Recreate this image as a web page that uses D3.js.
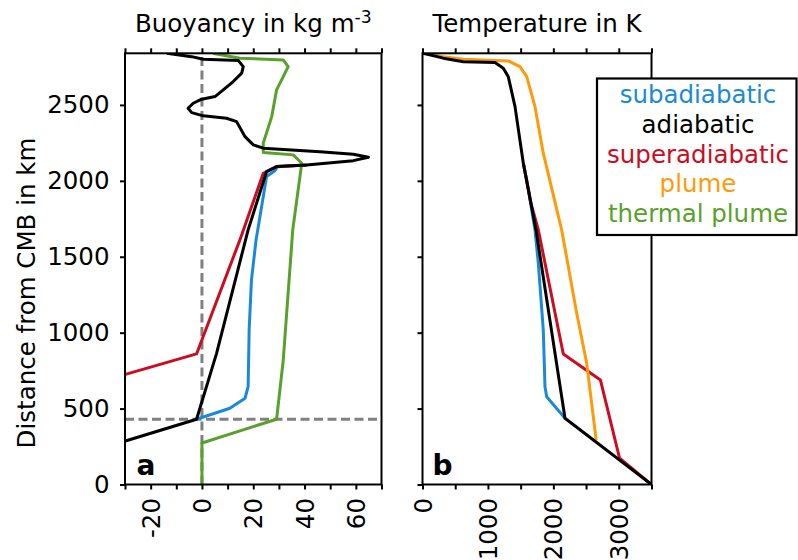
<!DOCTYPE html>
<html>
<head>
<meta charset="utf-8">
<script src="https://cdn.jsdelivr.net/npm/d3@7"></script>
<style>
body { margin: 0; background: #fff; }
text { font-family: "DejaVu Sans", sans-serif; }
</style>
</head>
<body>
<div id="chart"></div>
<script>
// Data: each point is [value, distance from CMB in km]

// Buoyancy in kg m^-3
const buoy_sub = [
    [-2.1, 430], [10.9, 502], [16.8, 568], [18.0, 644], [18.4, 1018], [19.3, 1347],
    [21.1, 1611], [25.2, 2028], [28.4, 2067], [29.5, 2092], [40.8, 2105]
];
const buoy_adi = [
    [-32, 275], [-2.1, 430], [5.7, 864], [18.0, 1677], [25.2, 2061], [29.1, 2094],
    [40.8, 2105], [59.0, 2133], [64.9, 2155], [59.0, 2175], [46.0, 2192], [23.9, 2215],
    [20.0, 2237], [16.8, 2291], [13.5, 2390], [9.6, 2412], [0.5, 2428], [-4.0, 2449],
    [-5.4, 2478], [-3.4, 2511], [-0.1, 2538], [5.1, 2555], [8.3, 2599], [12.2, 2654],
    [15.5, 2709], [16.1, 2752], [14.2, 2792], [0.5, 2801], [-4.0, 2818], [-13.7, 2841]
];
const buoy_super = [
    [-32, 715], [-2.1, 860], [14.8, 1611], [23.9, 2050], [29.1, 2094], [40.8, 2105]
];
const buoy_thermal = [
    [0, 0], [0, 273], [29.1, 430], [31.7, 820], [35.4, 1677], [38.9, 2116], [35.6, 2171],
    [23.9, 2186], [23.9, 2248], [27.2, 2423], [29.1, 2599], [31.7, 2686], [33.6, 2752],
    [31.7, 2796], [14.8, 2808], [5.7, 2836], [4.3, 2840]
];

// Temperature in K
const temp_sub = [
    [2178, 436], [1898, 578], [1872, 644], [1846, 1018], [1770, 1457], [1719, 1677],
    [1593, 2006], [1541, 2116]
];
const temp_adi = [
    [3500, 0], [2178, 436], [1735, 1677], [1541, 2116], [1414, 2489],
    [1311, 2686], [1235, 2742], [1108, 2779], [624, 2785], [318, 2808], [12, 2840]
];
const temp_super = [
    [3500, 0], [3012, 173], [2720, 688], [2152, 860], [1770, 1677], [1659, 1850], [1541, 2116]
];
const temp_plume = [
    [2655, 290], [2510, 798], [2357, 1128], [2127, 1677], [1846, 2182], [1719, 2489],
    [1593, 2686], [1490, 2752], [1311, 2790], [624, 2801], [318, 2818], [12, 2840]
];

// Ticks and labels
const km_ticks = [0, 500, 1000, 1500, 2000, 2500];
const buoy_ticks = d3.range(-30, 71, 10);
const buoy_labels = [-20, 0, 20, 40, 60];
const temp_ticks = d3.range(0, 3501, 500);
const temp_labels = [0, 1000, 2000, 3000];
const legend_names = ["subadiabatic", "adiabatic", "superadiabatic", "plume", "thermal plume"];
const legend_colors = ["#1b8ad6", "#000000", "#cc0c20", "#ff9a0a", "#58a12a"];

const chart_width = 798;
const chart_height = 560;
const font_size = 24.5;

const svg = d3.select("#chart")
    .append("svg")
    .attr("width", chart_width)
    .attr("height", chart_height)
    .style("background", "#fff");

// Scales
const y_scale = d3.scaleLinear().domain([0, 2840]).range([484.5, 53.3]);
const xa_scale = d3.scaleLinear().domain([-30, 70]).range([125, 381.5]);
const xb_scale = d3.scaleLinear().domain([0, 3500]).range([422.5, 651.5]);

function drawPanel(x_scale, ticks, labels, show_y, id) {
    const [x0, x1] = x_scale.range();
    const [y0, y1] = y_scale.range();

    svg.append("clipPath").attr("id", id)
        .append("rect")
        .attr("x", x0).attr("y", y1)
        .attr("width", x1 - x0).attr("height", y0 - y1);

    const bottom = svg.append("g")
        .attr("transform", `translate(0, ${y0})`)
        .call(d3.axisBottom(x_scale).tickValues(ticks).tickSize(5).tickSizeOuter(0)
            .tickFormat(d => labels.includes(d) ? d : ""));
    bottom.select(".domain").remove();
    bottom.selectAll(".tick text")
        .attr("transform", "rotate(-90)")
        .attr("x", -13.5)
        .attr("y", 0)
        .attr("dy", "0.35em")
        .attr("text-anchor", "end");

    const top = svg.append("g")
        .attr("transform", `translate(0, ${y1})`)
        .call(d3.axisTop(x_scale).tickValues(ticks).tickSize(5).tickSizeOuter(0).tickFormat(""));
    top.select(".domain").remove();

    const left = svg.append("g")
        .attr("transform", `translate(${x0}, 0)`)
        .call(d3.axisLeft(y_scale).tickValues(km_ticks).tickSize(5).tickSizeOuter(0).tickPadding(10.5)
            .tickFormat(show_y ? d3.format("d") : ""));
    left.select(".domain").remove();

    svg.selectAll(".tick line").attr("stroke-width", 2);
    svg.selectAll(".tick text")
        .attr("font-size", font_size)
        .attr("font-family", "DejaVu Sans")
        .attr("fill", "#000");

    return svg.append("g").attr("clip-path", `url(#${id})`);
}

function drawLine(g, x_scale, data, color) {
    const line = d3.line()
        .x(d => x_scale(d[0]))
        .y(d => y_scale(d[1]));
    g.append("path")
        .datum(data)
        .attr("fill", "none")
        .attr("stroke", color)
        .attr("stroke-width", 3)
        .attr("stroke-linejoin", "round")
        .attr("d", line);
}

function drawFrame(x_scale) {
    const [x0, x1] = x_scale.range();
    const [y0, y1] = y_scale.range();
    svg.append("rect")
        .attr("x", x0).attr("y", y1)
        .attr("width", x1 - x0).attr("height", y0 - y1)
        .attr("fill", "none")
        .attr("stroke", "#000")
        .attr("stroke-width", 2);
}

// Panel a: buoyancy
const ga = drawPanel(xa_scale, buoy_ticks, buoy_labels, true, "clip-a");

ga.append("line")
    .attr("x1", xa_scale(0)).attr("x2", xa_scale(0))
    .attr("y1", y_scale(0)).attr("y2", y_scale(2840))
    .attr("stroke", "#808080").attr("stroke-width", 3).attr("stroke-dasharray", "9,4.5");
ga.append("line")
    .attr("x1", xa_scale(-30)).attr("x2", xa_scale(70))
    .attr("y1", y_scale(430)).attr("y2", y_scale(430))
    .attr("stroke", "#808080").attr("stroke-width", 3).attr("stroke-dasharray", "9,4.5");

drawLine(ga, xa_scale, buoy_sub, legend_colors[0]);
drawLine(ga, xa_scale, buoy_super, legend_colors[2]);
drawLine(ga, xa_scale, buoy_thermal, legend_colors[4]);
drawLine(ga, xa_scale, buoy_adi, legend_colors[1]);
drawFrame(xa_scale);

// Panel b: temperature
const gb = drawPanel(xb_scale, temp_ticks, temp_labels, false, "clip-b");
drawLine(gb, xb_scale, temp_sub, legend_colors[0]);
drawLine(gb, xb_scale, temp_super, legend_colors[2]);
drawLine(gb, xb_scale, temp_plume, legend_colors[3]);
drawLine(gb, xb_scale, temp_adi, legend_colors[1]);
drawFrame(xb_scale);

// Titles
const title_a = svg.append("text")
    .attr("x", (xa_scale.range()[0] + xa_scale.range()[1]) / 2)
    .attr("y", 31.7)
    .attr("text-anchor", "middle")
    .attr("font-size", font_size)
    .text("Buoyancy in kg m");
title_a.append("tspan")
    .attr("dy", -8.4)
    .attr("font-size", font_size * 0.7)
    .text("-3");

svg.append("text")
    .attr("x", (xb_scale.range()[0] + xb_scale.range()[1]) / 2)
    .attr("y", 31.7)
    .attr("text-anchor", "middle")
    .attr("font-size", font_size)
    .text("Temperature in K");

// Y label
svg.append("text")
    .attr("transform", "translate(35, 293) rotate(-90)")
    .attr("text-anchor", "middle")
    .attr("font-size", font_size)
    .text("Distance from CMB in km");

// Panel letters
svg.append("text")
    .attr("x", 136.5).attr("y", 475)
    .attr("font-size", 28).attr("font-weight", "bold")
    .text("a");
svg.append("text")
    .attr("x", 432.5).attr("y", 475)
    .attr("font-size", 28).attr("font-weight", "bold")
    .text("b");

// Legend
svg.append("rect")
    .attr("x", 597).attr("y", 78.5)
    .attr("width", 199.5).attr("height", 156.5)
    .attr("fill", "#fff")
    .attr("stroke", "#000")
    .attr("stroke-width", 2.2);

svg.selectAll(".legend")
    .data(legend_names)
    .enter()
    .append("text")
    .attr("class", "legend")
    .attr("x", 698)
    .attr("y", (d, i) => 103.3 + i * 29.6)
    .attr("text-anchor", "middle")
    .attr("font-size", font_size)
    .attr("fill", (d, i) => legend_colors[i])
    .text(d => d);
</script>
</body>
</html>
